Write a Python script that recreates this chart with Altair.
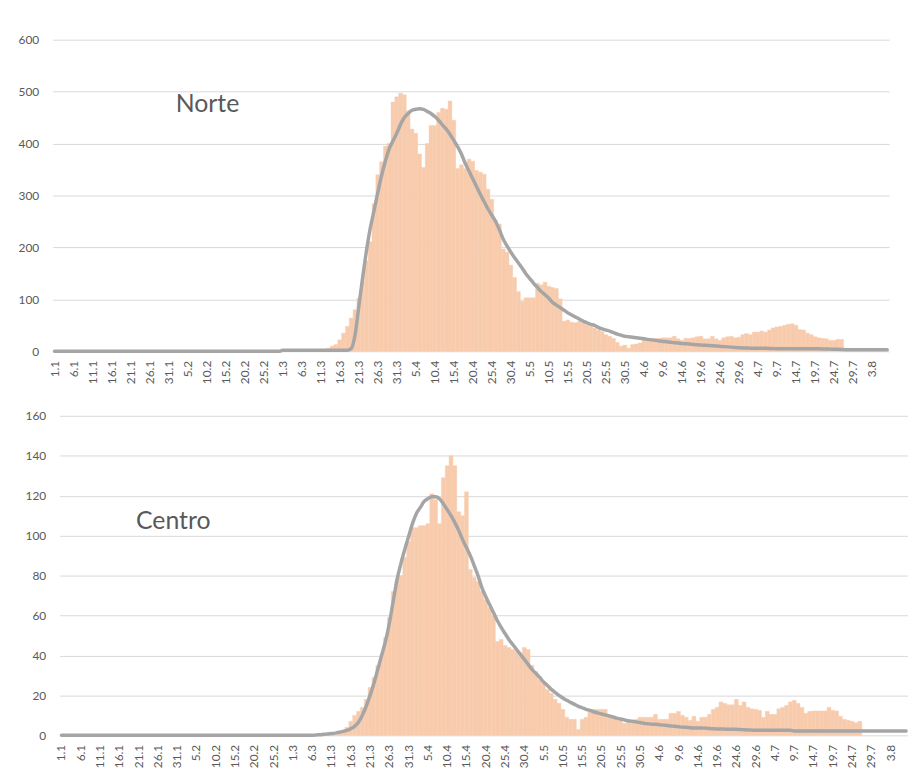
import altair as alt
import pandas as pd

# ---- categories (daily, 2020: 1 Jan .. 7 Aug) ----
MONTH_DAYS = [31, 29, 31, 30, 31, 30, 31, 7]
DATES = [f"{day}.{month}" for month, n in enumerate(MONTH_DAYS, start=1) for day in range(1, n + 1)]

TICK_LABELS = ["1.1", "6.1", "11.1", "16.1", "21.1", "26.1", "31.1", "5.2", "10.2", "15.2",
               "20.2", "25.2", "1.3", "6.3", "11.3", "16.3", "21.3", "26.3", "31.3", "5.4",
               "10.4", "15.4", "20.4", "25.4", "30.4", "5.5", "10.5", "15.5", "20.5", "25.5",
               "30.5", "4.6", "9.6", "14.6", "19.6", "24.6", "29.6", "4.7", "9.7", "14.7",
               "19.7", "24.7", "29.7", "3.8"]

# ---- Norte: daily cases (1.1 .. 26.7) ----
NORTE_CASES = [
    0, 0, 0, 0, 0, 0, 0, 0, 0, 0,
    0, 0, 0, 0, 0, 0, 0, 0, 0, 0,
    0, 0, 0, 0, 0, 0, 0, 0, 0, 0,
    0, 0, 0, 0, 0, 0, 0, 0, 0, 0,
    0, 0, 0, 0, 0, 0, 0, 0, 0, 0,
    0, 0, 0, 0, 0, 0, 0, 0, 0, 0,
    0, 0, 0, 0, 0, 0, 0, 0,
    1, 1, 2, 4, 6, 10, 13, 22, 35, 48, 64, 80,
    102, 134, 174, 211, 284, 340, 365, 395, 400, 480,
    490, 497, 494, 463, 428, 420, 380, 354, 400, 435,
    435, 460, 468, 466, 482, 445, 352, 359, 352, 370,
    366, 348, 345, 341, 312, 293, 252, 245, 197, 191,
    166, 142, 115, 96, 103, 103, 103, 131, 128, 133,
    125, 123, 121, 101, 58, 60, 56, 55, 58, 55,
    52, 48, 45, 41, 38, 32, 29, 25, 17, 10,
    12, 6, 13, 14, 16, 23, 24, 25, 25, 25,
    26, 26, 26, 29, 24, 21, 25, 25, 26, 28,
    29, 24, 24, 29, 24, 21, 26, 28, 29, 26,
    27, 32, 34, 32, 37, 37, 39, 37, 41, 45,
    47, 48, 50, 52, 53, 50, 42, 41, 35, 32,
    28, 26, 25, 24, 21, 21, 23, 23,
]

# ---- Norte: fitted curve (1.1 .. 7.8) ----
NORTE_FIT = [
    0, 0, 0, 0, 0, 0, 0, 0, 0, 0,
    0, 0, 0, 0, 0, 0, 0, 0, 0, 0,
    0, 0, 0, 0, 0, 0, 0, 0, 0, 0,
    0, 0, 0, 0, 0, 0, 0, 0, 0, 0,
    0, 0, 0, 0, 0, 0, 0, 0, 0, 0,
    0, 0, 0, 0, 0, 0, 0, 0, 0, 0,
    2, 2, 2, 2, 2, 2, 2, 2, 2, 2,
    2, 2, 2, 2, 2, 2, 2, 2, 5, 30,
    85, 140, 192, 236, 270, 305, 338, 366, 390, 405,
    420, 437, 450, 458, 464, 466, 467, 466, 462, 458,
    452, 445, 436, 428, 418, 406, 394, 380, 362, 347,
    332, 317, 302, 288, 274, 262, 250, 234, 216, 203,
    191, 180, 170, 160, 149, 140, 131, 123, 115, 109,
    102, 94, 89, 84, 79, 74, 70, 66, 62, 58,
    55, 52, 50, 46, 43, 41, 39, 36, 33, 31,
    29, 28, 27, 26, 25, 24, 23, 22, 21, 20,
    19, 18.5, 17.5, 16.5, 16, 15, 14.5, 14, 13, 12.5,
    12, 11.5, 11, 10.5, 10, 9.5, 9, 8.5, 8, 7.5,
    7, 6.5, 6.3, 6, 6, 6, 6, 5.8, 5.5, 5.2,
    5, 5, 5, 5, 5, 5, 5, 5, 5, 5,
    5, 4.8, 4.6, 4.4, 4.2, 4, 3.8, 3.5, 3, 3,
    3, 3, 3, 3, 3, 3, 3, 3, 3, 3,
]

# ---- Centro: daily cases (1.1 .. 26.7) ----
CENTRO_CASES = [
    0, 0, 0, 0, 0, 0, 0, 0, 0, 0,
    0, 0, 0, 0, 0, 0, 0, 0, 0, 0,
    0, 0, 0, 0, 0, 0, 0, 0, 0, 0,
    0, 0, 0, 0, 0, 0, 0, 0, 0, 0,
    0, 0, 0, 0, 0, 0, 0, 0, 0, 0,
    0, 0, 0, 0, 0, 0, 0, 0, 0, 0,
    0, 0, 0, 0, 0, 0, 0, 0, 0, 0,
    0, 0,
    1, 2, 4, 7, 10, 12, 14, 18,
    24, 29, 35, 40, 49, 59, 72, 78, 80, 89,
    97, 104, 104, 105, 105, 106, 121, 118, 106, 129,
    135, 140, 135, 112, 110, 122, 83, 79, 77, 72,
    68, 64, 60, 47, 48, 45, 44, 43, 42, 40,
    44, 43, 35, 32, 28, 26, 23, 21, 18, 16,
    13, 9, 8, 8, 3, 8, 9, 12, 13, 13,
    13, 13, 10, 9, 8, 8, 6, 7.5, 7.5, 8,
    9, 9, 9, 9, 10.5, 8, 8, 8, 11, 11,
    12, 10, 9, 7.5, 9.5, 7, 9, 9, 10.5, 13,
    14, 16.7, 16, 15.3, 15.3, 18, 15, 16.7, 14, 13.3,
    13, 12.5, 9, 12, 10.5, 10.5, 13.3, 14, 15, 16.7,
    17.5, 16, 14, 11, 12, 12.2, 12.2, 12.2, 12.2, 14,
    12.5, 12.2, 9.5, 8, 7.5, 7, 6.3, 7,
]

# ---- Centro: fitted curve (1.1 .. 7.8) ----
CENTRO_FIT = [
    0, 0, 0, 0, 0, 0, 0, 0, 0, 0,
    0, 0, 0, 0, 0, 0, 0, 0, 0, 0,
    0, 0, 0, 0, 0, 0, 0, 0, 0, 0,
    0, 0, 0, 0, 0, 0, 0, 0, 0, 0,
    0, 0, 0, 0, 0, 0, 0, 0, 0, 0,
    0, 0, 0, 0, 0, 0, 0, 0, 0, 0,
    0, 0, 0, 0, 0, 0,
    0.2, 0.3, 0.5, 0.7,
    0.9, 1.1, 1.5, 2, 2.5, 3.3, 4.5, 6.5, 10, 14.5,
    20, 26, 33, 40, 47, 56, 67, 78, 86, 93,
    99.5, 106, 111, 114, 117, 118.5, 119.5, 119.5, 118.5, 116,
    113, 110, 106.5, 102.5, 98, 94, 90, 85, 80, 74,
    69.5, 65.5, 61.5, 57.5, 54, 51, 48, 45.5, 43, 40.5,
    38, 35.5, 33, 31, 29, 26.7, 25, 23, 21.5, 20,
    18.7, 17.5, 16.5, 15.5, 14.5, 13.8, 13, 12.5, 11.8, 11.2,
    10.7, 10.2, 9.7, 9.2, 8.6, 8.2, 7.7, 7.3, 7, 6.7,
    6.4, 6, 5.8, 5.6, 5.5, 5.3, 5.1, 4.9, 4.7, 4.5,
    4.3, 4.1, 4, 3.8, 3.7, 3.7, 3.7, 3.6, 3.4, 3.3,
    3.2, 3.2, 3.1, 3, 3, 3, 2.9, 2.8, 2.7, 2.6,
    2.5, 2.5, 2.5, 2.5, 2.5, 2.5, 2.5, 2.5, 2.5, 2.5,
    2.2, 2.2, 2.2, 2.2, 2.2, 2.2, 2.2, 2.2, 2.2, 2.2,
    2.2, 2.2, 2.2, 2.2, 2.2, 2.2, 2.2, 2.2, 2.2, 2.2,
    2.2, 2.2, 2.2, 2.2, 2.2, 2.2, 2.2, 2.2, 2.2, 2.2,
]

BAR_COLOR = "#F8CBAD"
LINE_COLOR = "#A5A5A5"
GRID_COLOR = "#D9D9D9"
TEXT_COLOR = "#595959"
FONT = "Lato"


def table(values):
    return pd.DataFrame({"date": DATES[: len(values)], "value": values})


def panel(name, cases, fit, y_max, y_step, width, height, y_label_pad, tx, ty, x_range=None):
    scale_args = dict(domain=DATES, paddingInner=0, paddingOuter=0)
    if x_range is not None:
        scale_args["range"] = x_range
    x = alt.X(
        "date:N",
        scale=alt.Scale(**scale_args),
        axis=alt.Axis(values=TICK_LABELS, labelAngle=270, ticks=False, domain=False, grid=False,
                      labelPadding=9, labelOverlap=False, labelFont=FONT, labelFontSize=12,
                      labelColor=TEXT_COLOR, title=None),
    )
    y = alt.Y(
        "value:Q",
        scale=alt.Scale(domain=[0, y_max], nice=False),
        axis=alt.Axis(values=list(range(0, y_max + 1, y_step)), ticks=False, domain=False,
                      grid=True, gridColor=GRID_COLOR, gridWidth=1, labelPadding=y_label_pad,
                      labelFont=FONT, labelFontSize=12, labelColor=TEXT_COLOR, title=None),
    )
    bars = alt.Chart(table(cases)).mark_bar(color=BAR_COLOR, stroke=BAR_COLOR, strokeWidth=0.4).encode(x=x, y=y)
    line = alt.Chart(table(fit)).mark_line(
        color=LINE_COLOR, strokeWidth=3.5, interpolate="monotone", strokeCap="round", strokeJoin="round"
    ).encode(x=x, y=y)
    label = alt.Chart(pd.DataFrame({"name": [name]})).mark_text(
        align="left", baseline="alphabetic", font=FONT, fontSize=25, color=TEXT_COLOR
    ).encode(x=alt.value(tx), y=alt.value(ty), text="name:N")
    return alt.layer(bars, line, label).properties(width=width, height=height)


norte = panel("Norte", NORTE_CASES, NORTE_FIT, 600, 100, 843, 314, 14, 124, 73)
centro = panel("Centro", CENTRO_CASES, CENTRO_FIT, 160, 20, 862, 322, 7, 84, 114, x_range=[7, 862])

chart = (
    alt.vconcat(norte, centro, spacing=26)
    .properties(padding={"left": 10, "top": 23, "right": 0, "bottom": 0})
    .configure_view(stroke=None)
)

chart.save("out.html", embed_options={"renderer": "svg", "actions": False})
